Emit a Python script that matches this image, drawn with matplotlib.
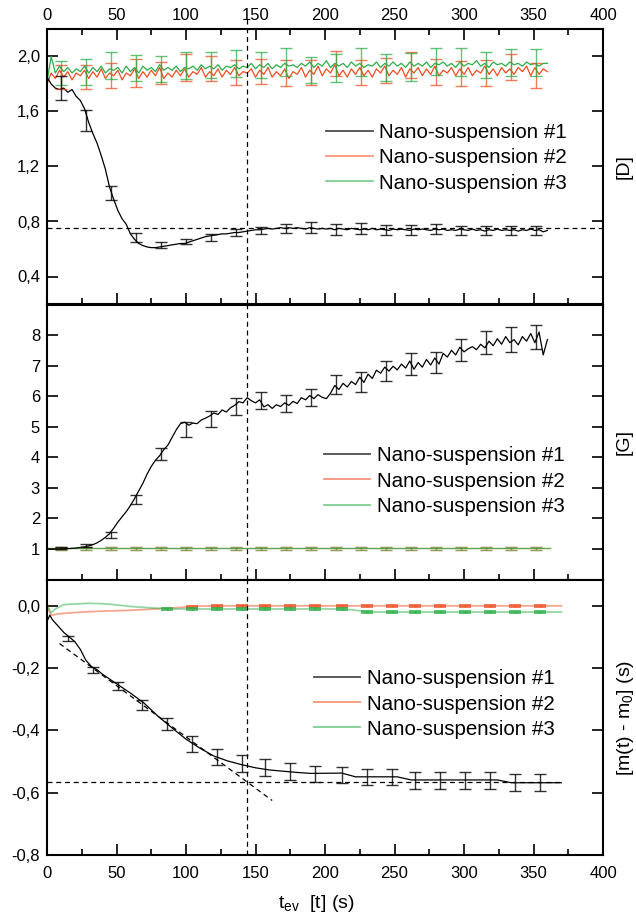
import numpy as np
import matplotlib
matplotlib.use("Agg")
import matplotlib.pyplot as plt
from matplotlib.ticker import MultipleLocator, FuncFormatter
from matplotlib.lines import Line2D

plt.rcParams['font.family'] = ['Liberation Sans', 'DejaVu Sans']
plt.rcParams['mathtext.fontset'] = 'custom'
plt.rcParams['mathtext.rm'] = 'Liberation Sans'
plt.rcParams['mathtext.it'] = 'Liberation Sans:italic'

RED = '#EF4E23'
GREEN = '#2BAE48'

# time grid of the noisy traces (s)
t = np.arange(0, 361, 3)

# panel 1: D
d1 = [1.85, 1.80, 1.77, 1.76, 1.77, 1.74, 1.76, 1.71, 1.68, 1.62,
      1.52, 1.44, 1.37, 1.28, 1.18, 1.05, 0.96, 0.88, 0.82, 0.78,
      0.71, 0.67, 0.64, 0.625, 0.615, 0.61, 0.61, 0.615, 0.62, 0.625,
      0.63, 0.635, 0.64, 0.64, 0.65, 0.66, 0.67, 0.68, 0.69, 0.695,
      0.70, 0.705, 0.71, 0.71, 0.715, 0.72, 0.72, 0.725, 0.73, 0.735,
      0.74, 0.74, 0.745, 0.75, 0.745, 0.75, 0.755, 0.75, 0.755, 0.75,
      0.755, 0.75, 0.745, 0.755, 0.75, 0.745, 0.75, 0.745, 0.75, 0.74,
      0.75, 0.745, 0.74, 0.75, 0.745, 0.74, 0.745, 0.74, 0.75, 0.74,
      0.745, 0.74, 0.735, 0.745, 0.74, 0.745, 0.74, 0.735, 0.745, 0.74,
      0.745, 0.74, 0.735, 0.745, 0.74, 0.745, 0.735, 0.74, 0.735, 0.745,
      0.74, 0.735, 0.745, 0.735, 0.74, 0.73, 0.74, 0.735, 0.745, 0.735,
      0.74, 0.735, 0.74, 0.73, 0.74, 0.735, 0.745, 0.735, 0.74, 0.725,
      0.735]
d2 = [1.80, 1.88, 1.84, 1.90, 1.85, 1.89, 1.83, 1.88, 1.86, 1.90,
      1.84, 1.89, 1.85, 1.91, 1.84, 1.88, 1.86, 1.90, 1.83, 1.88,
      1.86, 1.91, 1.84, 1.89, 1.85, 1.90, 1.86, 1.92, 1.84, 1.88,
      1.85, 1.90, 1.86, 1.91, 1.85, 1.89, 1.87, 1.92, 1.85, 1.89,
      1.86, 1.91, 1.85, 1.90, 1.87, 1.92, 1.86, 1.89, 1.88, 1.91,
      1.85, 1.90, 1.87, 1.92, 1.85, 1.89, 1.86, 1.91, 1.84, 1.89,
      1.87, 1.92, 1.85, 1.90, 1.87, 1.93, 1.86, 1.91, 1.88, 1.94,
      1.86, 1.90, 1.85, 1.91, 1.87, 1.92, 1.86, 1.90, 1.85, 1.91,
      1.88, 1.93, 1.86, 1.90, 1.87, 1.92, 1.85, 1.91, 1.88, 1.92,
      1.86, 1.91, 1.87, 1.93, 1.86, 1.90, 1.88, 1.92, 1.86, 1.91,
      1.87, 1.92, 1.86, 1.90, 1.88, 1.93, 1.87, 1.91, 1.86, 1.92,
      1.88, 1.91, 1.87, 1.92, 1.89, 1.93, 1.86, 1.92, 1.87, 1.91,
      1.89]
d3 = [1.82, 2.00, 1.88, 1.93, 1.89, 1.92, 1.88, 1.91, 1.89, 1.93,
      1.88, 1.92, 1.89, 1.93, 1.88, 1.91, 1.90, 1.92, 1.88, 1.93,
      1.89, 1.92, 1.88, 1.93, 1.90, 1.92, 1.89, 1.94, 1.90, 1.92,
      1.90, 1.93, 1.89, 1.92, 1.91, 1.93, 1.90, 1.94, 1.91, 1.93,
      1.91, 1.94, 1.90, 1.93, 1.92, 1.94, 1.91, 1.93, 1.92, 1.95,
      1.91, 1.94, 1.92, 1.95, 1.91, 1.94, 1.92, 1.95, 1.93, 1.94,
      1.92, 1.95, 1.93, 1.96, 1.92, 1.95, 1.93, 1.97, 1.92, 1.95,
      1.93, 1.95, 1.92, 1.96, 1.93, 1.95, 1.92, 1.94, 1.93, 1.96,
      1.92, 1.95, 1.93, 1.96, 1.93, 1.95, 1.92, 1.96, 1.93, 1.95,
      1.93, 1.96, 1.92, 1.95, 1.94, 1.96, 1.93, 1.95, 1.92, 1.96,
      1.93, 1.95, 1.94, 1.97, 1.93, 1.95, 1.92, 1.96, 1.94, 1.95,
      1.93, 1.96, 1.94, 1.95, 1.93, 1.96, 1.94, 1.95, 1.93, 1.95,
      1.95]

# error bars (panels 1 and 2)
eb_t = [10, 28, 46, 64, 82, 100, 118, 136, 154, 172,
        190, 208, 226, 244, 262, 280, 298, 316, 334, 352]
d1_c = [1.77, 1.535, 1.005, 0.683, 0.628, 0.655, 0.685, 0.72, 0.735, 0.75,
        0.755, 0.745, 0.75, 0.74, 0.74, 0.745, 0.735, 0.735, 0.735, 0.735]
d1_e = [0.09, 0.075, 0.05, 0.033, 0.02, 0.018, 0.025, 0.025, 0.025, 0.035,
        0.04, 0.04, 0.04, 0.036, 0.036, 0.036, 0.035, 0.035, 0.035, 0.035]
d2_c = [1.85, 1.85, 1.86, 1.88, 1.88, 1.92, 1.91, 1.885, 1.89, 1.88,
        1.885, 1.95, 1.885, 1.90, 1.94, 1.89, 1.875, 1.88, 1.925, 1.86]
d2_e = [0.09, 0.09, 0.09, 0.10, 0.08, 0.10, 0.09, 0.09, 0.09, 0.095,
        0.09, 0.09, 0.09, 0.09, 0.095, 0.095, 0.09, 0.095, 0.095, 0.09]
d3_c = [1.88, 1.89, 1.935, 1.915, 1.91, 1.935, 1.94, 1.95, 1.94, 1.96,
        1.90, 1.915, 1.96, 1.92, 1.925, 1.965, 1.96, 1.935, 1.955, 1.955]
d3_e = [0.09, 0.095, 0.10, 0.095, 0.095, 0.10, 0.095, 0.10, 0.095, 0.10,
        0.095, 0.10, 0.10, 0.095, 0.10, 0.10, 0.10, 0.095, 0.10, 0.10]

# panel 2: G
g1 = [1.00, 1.00, 1.00, 1.00, 1.01, 1.01, 1.02, 1.03, 1.05, 1.07,
      1.10, 1.14, 1.20, 1.28, 1.38, 1.50, 1.68, 1.88, 2.05, 2.22,
      2.42, 2.65, 2.90, 3.15, 3.45, 3.70, 3.90, 4.05, 4.25, 4.40,
      4.65, 4.90, 5.10, 5.15, 5.05, 5.12, 5.10, 5.22, 5.28, 5.35,
      5.45, 5.40, 5.55, 5.48, 5.62, 5.70, 5.82, 5.78, 5.95, 5.85,
      5.78, 5.88, 5.65, 5.72, 5.60, 5.72, 5.66, 5.78, 5.70, 5.83,
      5.76, 5.95, 5.88, 6.02, 5.92, 6.05, 5.96, 5.92, 6.10, 6.35,
      6.22, 6.42, 6.30, 6.48, 6.38, 6.62, 6.45, 6.72, 6.58, 6.85,
      6.75, 6.95, 6.82, 6.98, 6.86, 7.05, 6.92, 7.15, 6.88, 7.10,
      6.95, 7.20, 7.02, 7.25, 7.05, 7.40, 7.28, 7.50, 7.35, 7.60,
      7.45, 7.55, 7.62, 7.52, 7.70, 7.58, 7.80, 7.65, 7.88, 7.70,
      7.95, 7.75, 7.85, 7.68, 7.95, 7.80, 8.05, 7.75, 8.10, 7.35,
      7.85]
g23_t = [0, 60, 120, 180, 240, 300, 362]
g2 = [1.03, 1.03, 1.03, 1.03, 1.03, 1.03, 1.03]
g3 = [1.02, 1.02, 1.02, 1.02, 1.02, 1.02, 1.02]
g1_c = [1.03, 1.10, 1.46, 2.63, 4.12, 4.92, 5.25, 5.65, 5.85, 5.77,
        5.97, 6.37, 6.47, 6.82, 7.05, 7.10, 7.50, 7.75, 7.85, 7.93]
g1_e = [0.03, 0.05, 0.09, 0.15, 0.20, 0.25, 0.27, 0.28, 0.28, 0.28,
        0.28, 0.31, 0.32, 0.33, 0.35, 0.35, 0.36, 0.38, 0.40, 0.40]
g23_e = 0.05

# panel 3: m(t) - m0
m1_t = [0, 2, 4, 8, 12, 16, 20, 24, 28, 32, 36, 40, 50, 60, 70, 80, 90,
        100, 110, 120, 130, 140, 150, 160, 170, 180, 190, 212, 222, 252,
        262, 324, 334, 370]
m1 = [-0.05, -0.03, -0.045, -0.065, -0.085, -0.10, -0.115, -0.14, -0.175,
      -0.195, -0.205, -0.22, -0.25, -0.28, -0.313, -0.355, -0.392,
      -0.428, -0.457, -0.482, -0.498, -0.51, -0.52, -0.527, -0.531,
      -0.535, -0.538, -0.537, -0.549, -0.549, -0.559, -0.559, -0.568, -0.568]
m2_t = [0, 3, 8, 15, 25, 40, 55, 70, 85, 100, 110, 120, 370]
m2 = [0.0, -0.030, -0.026, -0.023, -0.020, -0.017, -0.015, -0.012,
      -0.008, -0.004, -0.001, 0.0, 0.0]
m3_t = [0, 3, 6, 12, 20, 30, 40, 50, 60, 70, 80, 90, 212, 220, 228, 235, 370]
m3 = [0.0, -0.022, -0.01, 0.004, 0.006, 0.008, 0.007, 0.003, -0.002,
      -0.005, -0.008, -0.01, -0.01, -0.013, -0.018, -0.02, -0.02]
mb_t = [15, 33, 51, 68, 86, 104, 122, 140, 157, 175,
        193, 212, 230, 248, 265, 283, 301, 319, 337, 355]
m1_c = [-0.105, -0.207, -0.257, -0.318, -0.379, -0.443, -0.485, -0.506, -0.519, -0.532,
        -0.540, -0.543, -0.550, -0.550, -0.560, -0.560, -0.560, -0.560, -0.568, -0.568]
m1_e = [0.008, 0.010, 0.013, 0.017, 0.020, 0.025, 0.025, 0.026, 0.026, 0.027,
        0.027, 0.027, 0.026, 0.026, 0.027, 0.027, 0.027, 0.027, 0.028, 0.028]
# #2 and #3 bars are only visible once the traces have flattened
m2b_t = [104, 122, 140, 157, 175, 193, 212, 230, 248, 265, 283, 301, 319, 337, 355]
m2_c = [-0.003, 0.0, 0.0, 0.0, 0.0, 0.0, 0.0, 0.0, 0.0, 0.0, 0.0, 0.0, 0.0, 0.0, 0.0]
m3b_t = [86, 104, 122, 140, 157, 175, 193, 212, 230, 248, 265, 283, 301, 319, 337, 355]
m3_c = [-0.009, -0.01, -0.01, -0.01, -0.01, -0.01, -0.01, -0.01, -0.019, -0.02,
        -0.02, -0.02, -0.02, -0.02, -0.02, -0.02]
m23_e = 0.003

# guide lines
t_cross = 144
d_plateau = 0.75
m_plateau = -0.567
m_plateau_end = 370
tan_t = [9, 162]
tan_m = [-0.121, -0.625]

labels = ['Nano-suspension #1', 'Nano-suspension #2', 'Nano-suspension #3']

fig = plt.figure(figsize=(6.36, 9.24), dpi=100)
left, width, height = 47 / 636, 556 / 636, 275 / 924
ax1 = fig.add_axes([left, 1 - 304 / 924, width, height])
ax2 = fig.add_axes([left, 1 - 579.5 / 924, width, height])
ax3 = fig.add_axes([left, 1 - 855 / 924, width, height])

comma = FuncFormatter(lambda v, p: ('%.1f' % (0.0 if abs(v) < 1e-9 else v)).replace('.', ','))
dash = (0, (4, 3))
cap = 4.3

for ax in (ax1, ax2, ax3):
    ax.set_xlim(0, 400)
    ax.xaxis.set_major_locator(MultipleLocator(50))
    ax.xaxis.set_minor_locator(MultipleLocator(25))
    for s in ax.spines.values():
        s.set_linewidth(1.5)
    ax.tick_params(axis='both', which='major', direction='in', length=8, width=1.2,
                   labelsize=12, right=True, top=False, labelbottom=False)
    ax.tick_params(axis='x', which='minor', direction='in', length=4, width=1.2, top=False)
    ax.tick_params(axis='y', pad=5)
    ax.yaxis.set_label_position('right')

# --- panel 1
ax1.tick_params(axis='x', which='both', top=True, labeltop=True, pad=4)
ax1.set_ylim(0.2, 2.2)
ax1.set_yticks([0.4, 0.8, 1.2, 1.6, 2.0])
ax1.yaxis.set_major_formatter(comma)
ax1.plot(t, d2, color=RED, lw=0.9)
ax1.plot(t, d3, color=GREEN, lw=0.9)
ax1.plot(t, d1, color='black', lw=0.9)
ax1.errorbar(eb_t, d2_c, yerr=d2_e, fmt='none', ecolor=RED, elinewidth=1,
             capsize=cap, capthick=1, alpha=0.75)
ax1.errorbar(eb_t, d3_c, yerr=d3_e, fmt='none', ecolor=GREEN, elinewidth=1,
             capsize=cap, capthick=1, alpha=0.75)
ax1.errorbar(eb_t, d1_c, yerr=d1_e, fmt='none', ecolor='black', elinewidth=1,
             capsize=cap, capthick=1, alpha=0.8)
ax1.axhline(d_plateau, color='black', lw=0.9, ls=dash)
ax1.axvline(t_cross, ymin=0, ymax=1 + 14 / 275, color='black', lw=0.9, ls=dash, clip_on=False)
ax1.set_ylabel('[D]', fontsize=14, labelpad=9)

# --- panel 2
ax2.tick_params(axis='x', which='both', pad=4)
ax2.set_ylim(0, 9)
ax2.set_yticks(range(1, 9))
ax2.plot(g23_t, g2, color=RED, lw=0.9, alpha=0.6)
ax2.plot(g23_t, g3, color=GREEN, lw=0.9, alpha=0.8)
ax2.plot(t, g1, color='black', lw=0.9)
ax2.errorbar(eb_t, g2[0:1] * len(eb_t), yerr=g23_e, fmt='none', ecolor=RED,
             elinewidth=1, capsize=cap, capthick=1, alpha=0.6)
ax2.errorbar(eb_t, g3[0:1] * len(eb_t), yerr=g23_e, fmt='none', ecolor=GREEN,
             elinewidth=1, capsize=cap, capthick=1, alpha=0.5)
ax2.errorbar(eb_t, g1_c, yerr=g1_e, fmt='none', ecolor='black', elinewidth=1,
             capsize=cap, capthick=1, alpha=0.8)
ax2.axvline(t_cross, color='black', lw=0.9, ls=dash)
ax2.set_ylabel('[G]', fontsize=14, labelpad=9)

# --- panel 3
ax3.tick_params(axis='x', which='major', labelbottom=True, pad=8)
ax3.set_ylim(-0.8, 0.083)
ax3.set_yticks([-0.8, -0.6, -0.4, -0.2, 0.0])
ax3.yaxis.set_major_formatter(comma)
ax3.plot(m2_t, m2, color=RED, lw=1.3, alpha=0.5)
ax3.plot(m3_t, m3, color=GREEN, lw=1.3, alpha=0.5)
ax3.errorbar(m2b_t, m2_c, yerr=m23_e, fmt='none', ecolor=RED, elinewidth=1,
             capsize=cap, capthick=1.2, alpha=0.9)
ax3.errorbar(m3b_t, m3_c, yerr=m23_e, fmt='none', ecolor=GREEN, elinewidth=1,
             capsize=cap, capthick=1.2, alpha=0.9)
ax3.plot(m1_t, m1, color='black', lw=0.9)
ax3.errorbar(mb_t, m1_c, yerr=m1_e, fmt='none', ecolor='black', elinewidth=1,
             capsize=cap, capthick=1, alpha=0.8)
ax3.plot(tan_t, tan_m, color='black', lw=0.9, ls=dash)
ax3.hlines(m_plateau, 0, m_plateau_end, color='black', lw=0.9, ls=dash)
ax3.axvline(t_cross, color='black', lw=0.9, ls=dash)
ax3.set_ylabel(r'[m(t) - m$_\mathregular{0}$] (s)', fontsize=14, labelpad=9)
ax3.set_xlabel(r't$_\mathregular{ev}$  [t] (s)', fontsize=14)
ax3.xaxis.set_label_coords(0.485, -0.138)

handles = [Line2D([], [], color='black', lw=1.3, alpha=0.7),
           Line2D([], [], color=RED, lw=1.3, alpha=0.6),
           Line2D([], [], color=GREEN, lw=1.3, alpha=0.6)]
for ax, anchor in ((ax1, (0.502, 0.531)), (ax2, (0.498, 0.358)), (ax3, (0.48, 0.549))):
    ax.legend(handles, labels, loc='center left', bbox_to_anchor=anchor,
              frameon=False, fontsize=14.8, borderpad=0, borderaxespad=0,
              handlelength=2.26, handletextpad=0.3, labelspacing=0.3)

fig.savefig('out.png', dpi=100)
